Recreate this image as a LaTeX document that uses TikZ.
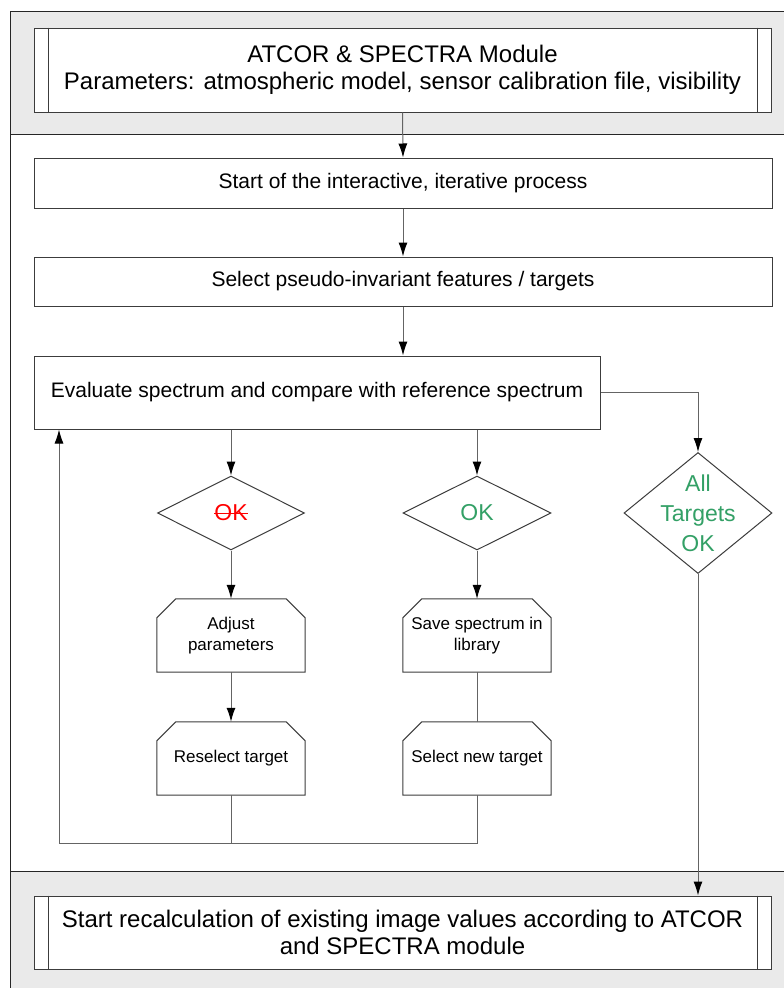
\documentclass[tikz,border=0pt]{standalone}
\usepackage{fontspec}
\setmainfont{Liberation Sans}
\usetikzlibrary{shapes.geometric,arrows.meta,calc}
\definecolor{band}{RGB}{234,234,234}
\definecolor{okgreen}{RGB}{51,160,102}
\definecolor{edgec}{RGB}{60,60,60}
\definecolor{connc}{RGB}{100,100,100}
\newcommand\strikered[1]{\setbox0\hbox{#1}\rlap{\usebox0}\rule[0.3em]{\wd0}{1.3pt}}
\newcommand\chamoutline[1]{\draw[edgec, line width=1pt] (#1.south west) -- ($(#1.north west)+(0,19)$) -- ($(#1.north west)+(19,0)$) -- ($(#1.north east)+(-19,0)$) -- ($(#1.north east)+(0,19)$) -- (#1.south east) -- cycle;}
\begin{document}
\begin{tikzpicture}[x=1pt,y=-1pt,
  boxbase/.style={draw=edgec, line width=1pt, fill=white, inner sep=0pt, align=center},
  bigproc/.style={boxbase, minimum width=737pt, minimum height=84pt, font=\fontsize{24}{27.5}\selectfont},
  procbox/.style={boxbase, font=\fontsize{21}{25}\selectfont},
  chambox/.style={rectangle, inner sep=0pt, align=center,
     minimum width=148pt, minimum height=73pt, font=\fontsize{17}{21}\selectfont},
  decbox/.style={draw=edgec, line width=1pt, fill=white, diamond, inner sep=0pt,
     font=\fontsize{23}{30}\selectfont},
  connline/.style={draw=connc, line width=1pt},
  connarrow/.style={connline, -{Latex[length=14pt,width=9pt,black]}},
  framel/.style={draw=black!85, line width=1pt}
]
\useasboundingbox (0,0) rectangle (784,988);
\fill[white] (0,0) rectangle (784,988);
\fill[band] (10,11) rectangle (790,134);
\fill[band] (10,871) rectangle (790,992);
\draw[framel] (790,11) -- (10,11) -- (10,992);
\draw[framel] (10,134) -- (790,134);
\draw[framel] (10,871) -- (790,871);

% top predefined process
\node[bigproc] (top) at (402.5,70) {ATCOR \& SPECTRA Module\\Parameters: atmospheric model, sensor calibration file, visibility};
\draw[edgec, line width=1pt] ($(top.north west)+(15,0)$) -- ($(top.south west)+(15,0)$);
\draw[edgec, line width=1pt] ($(top.north east)+(-14,0)$) -- ($(top.south east)+(-14,0)$);

\node[procbox, minimum width=738pt, minimum height=50pt] (start) at (403,183) {Start of the interactive, iterative process};
\node[procbox, minimum width=738pt, minimum height=49pt] (select) at (403,281.5) {Select pseudo-invariant features / targets};
\node[procbox, minimum width=566pt, minimum height=73pt] (eval) at (317,392.5) {Evaluate spectrum and compare with reference spectrum};

\node[decbox, minimum width=147pt, minimum height=74pt, text=red] (okA) at (231,513) {\strikered{OK}};
\node[decbox, minimum width=148pt, minimum height=74pt, text=okgreen] (okB) at (477,513) {OK};
\node[decbox, minimum width=148pt, minimum height=121pt,
  label={[font=\fontsize{23}{30}\selectfont, text=okgreen, align=center]center:All\\Targets\\OK}] (allT) at (698,513) {};

\node[chambox] (adjust) at (231,635.5) {Adjust\\parameters};
\chamoutline{adjust}
\node[chambox] (save) at (477,635.5) {Save spectrum in\\library};
\chamoutline{save}
\node[chambox] (resel) at (231,758.5) {Reselect target};
\chamoutline{resel}
\node[chambox] (selnew) at (477,758.5) {Select new target};
\chamoutline{selnew}

% bottom predefined process
\node[bigproc, minimum height=73pt] (final) at (402.5,932.5) {Start recalculation of existing image values according to ATCOR\\and SPECTRA module};
\draw[edgec, line width=1pt] ($(final.north west)+(15,0)$) -- ($(final.south west)+(15,0)$);
\draw[edgec, line width=1pt] ($(final.north east)+(-14,0)$) -- ($(final.south east)+(-14,0)$);

\coordinate (loopL) at (59,843);

% connectors
\draw[connarrow] (top.south) -- (start.north);
\draw[connarrow] (start.south) -- (select.north);
\draw[connarrow] (select.south) -- (select.south |- eval.north);
\draw[connarrow] (eval.south -| okA.north) -- (okA.north);
\draw[connarrow] (eval.south -| okB.north) -- (okB.north);
\draw[connarrow] (eval.east) -- (eval.east -| allT.north) -- (allT.north);
\draw[connarrow] (okA.south) -- (adjust.north);
\draw[connarrow] (okB.south) -- (save.north);
\draw[connarrow] (adjust.south) -- (resel.north);
\draw[connline] (save.south) -- (selnew.north);
\draw[connline] (selnew.south) -- (selnew.south |- loopL) -- (loopL);
\draw[connline] (resel.south) -- (resel.south |- loopL);
\draw[connarrow] (loopL) -- (loopL |- eval.south);
\draw[connarrow] (allT.south) -- (allT.south |- final.north);
\end{tikzpicture}
\end{document}
